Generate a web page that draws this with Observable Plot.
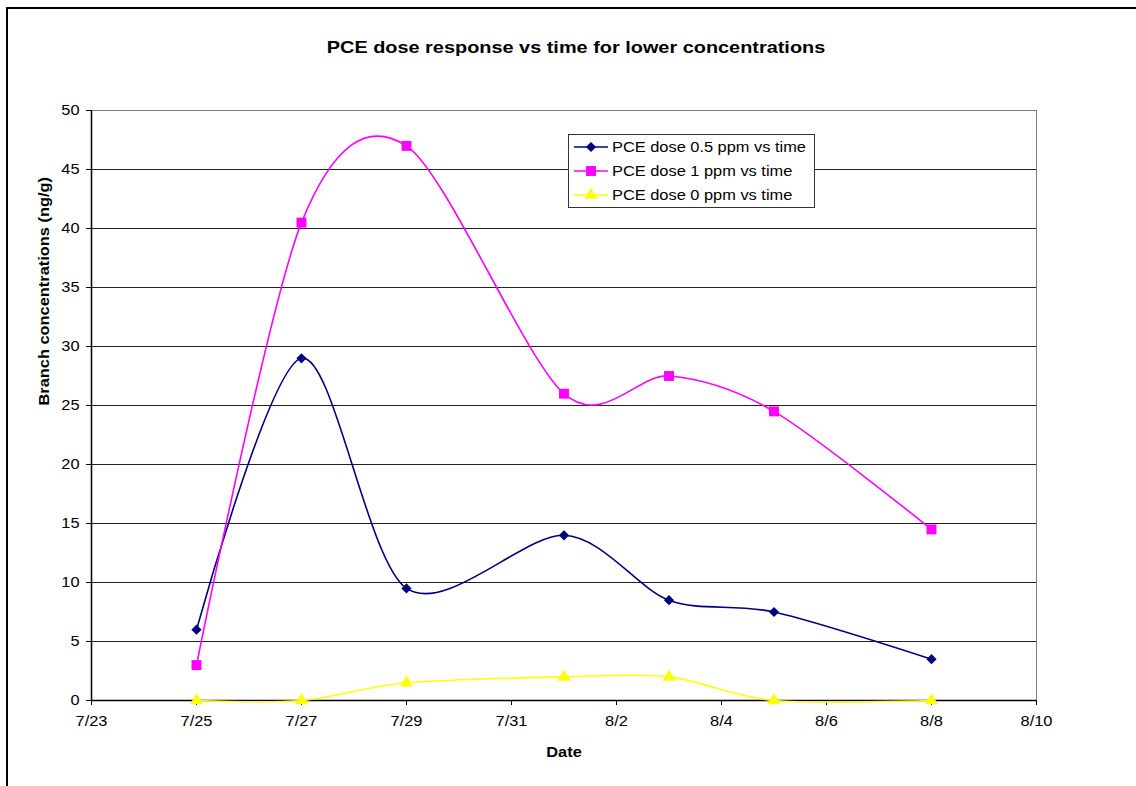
<!DOCTYPE html>
<html>
<head>
<meta charset="utf-8">
<script src="https://cdn.jsdelivr.net/npm/d3@7"></script>
<script src="https://cdn.jsdelivr.net/npm/@observablehq/plot@0.6"></script>
<style>
  html, body { margin: 0; padding: 0; background: #fff; }
  #chart { position: relative; width: 1136px; height: 786px; overflow: hidden; }
  #chart svg { position: absolute; left: 0; top: 0; }
</style>
</head>
<body>
<div id="chart"></div>
<script>
// ---- data ----
const title = "PCE dose response vs time for lower concentrations";
const xLabel = "Date";
const yLabel = "Branch concentrations (ng/g)";
const dates = ["7/25", "7/27", "7/29", "8/1", "8/3", "8/5", "8/8"];
const dose05 = [6, 29, 9.5, 14, 8.5, 7.5, 3.5];
const dose1 = [3, 40.5, 47, 26, 27.5, 24.5, 14.5];
const dose0 = [0, 0, 1.5, 2, 2, 0, 0];
const seriesNames = ["PCE dose 0.5 ppm vs time", "PCE dose 1 ppm vs time", "PCE dose 0 ppm vs time"];
const seriesColors = ["#000080", "#FF00FF", "#FFFF00"];
const seriesSymbols = ["diamond2", "square", "triangle"];
const xTickLabels = ["7/23", "7/25", "7/27", "7/29", "7/31", "8/2", "8/4", "8/6", "8/8", "8/10"];
const yTicks = [0, 5, 10, 15, 20, 25, 30, 35, 40, 45, 50];

const parse = s => { const [m, d] = s.split("/").map(Number); return new Date(Date.UTC(2004, m - 1, d)); };
const fmt = d => `${d.getUTCMonth() + 1}/${d.getUTCDate()}`;
const xTickDates = xTickLabels.map(parse);
const allSeries = [dose05, dose1, dose0];
const rows = allSeries.flatMap((vals, i) => vals.map((v, j) => ({series: seriesNames[i], date: parse(dates[j]), value: v})));
const symSizes = {diamond2: 4.6, square: 5.6, triangle: 4.8};

const font = "'Liberation Sans', Arial, sans-serif";
const marks = [
  Plot.ruleY(yTicks.filter(d => d > 0 && d < 50), {stroke: "#222", strokeWidth: 1}),
  Plot.ruleY([50], {stroke: "#808080", strokeWidth: 1}),
  Plot.ruleX([xTickDates[xTickDates.length - 1]], {stroke: "#808080", strokeWidth: 1}),
  Plot.axisY({ticks: yTicks, tickSize: 5, tickPadding: 7, label: null, fontSize: 14}),
  Plot.axisX({ticks: xTickDates, tickFormat: fmt, tickSize: 5, tickPadding: 11, label: null, fontSize: 14}),
  Plot.ruleY([0], {stroke: "#000", strokeWidth: 1.5}),
  Plot.ruleX([xTickDates[0]], {stroke: "#000", strokeWidth: 1.5})
];
seriesNames.forEach((name, i) => {
  const data = rows.filter(r => r.series === name);
  marks.push(Plot.line(data, {x: "date", y: "value", stroke: seriesColors[i], strokeWidth: 1.6, curve: "cardinal", tension: 0.1}));
});
seriesNames.forEach((name, i) => {
  const data = rows.filter(r => r.series === name);
  marks.push(Plot.dot(data, {x: "date", y: "value", symbol: seriesSymbols[i], fill: seriesColors[i], stroke: "none", r: symSizes[seriesSymbols[i]]}));
});
marks.push(Plot.text([title], {frameAnchor: "top", dx: 12, dy: -63, lineAnchor: "middle", fontSize: 17, fontWeight: "bold", text: d => d}));
marks.push(Plot.text([xLabel], {frameAnchor: "bottom", dy: 52, lineAnchor: "middle", fontSize: 14, fontWeight: "bold", text: d => d}));
marks.push(Plot.text([yLabel], {frameAnchor: "left", dx: -47, rotate: -90, lineAnchor: "middle", fontSize: 14, fontWeight: "bold", text: d => d}));

const chart = Plot.plot({
  width: 1136, height: 786,
  marginLeft: 91, marginRight: 100, marginTop: 110, marginBottom: 86,
  x: {type: "utc", domain: [xTickDates[0], xTickDates[xTickDates.length - 1]]},
  y: {domain: [0, 50]},
  style: {fontFamily: font, fontSize: "14px", color: "#000", background: "transparent", overflow: "visible"},
  marks
});
document.getElementById("chart").appendChild(chart);

const svg = d3.select(chart);
// outer chart border (left and top visible)
svg.append("path").attr("d", "M7,800V8H1140").attr("fill", "none").attr("stroke", "#000").attr("stroke-width", 2);

// legend
const lg = svg.append("g").attr("transform", "translate(568,134)");
lg.append("rect").attr("x", 0.5).attr("y", 0.5).attr("width", 246).attr("height", 73).attr("fill", "#fff").attr("stroke", "#333").attr("stroke-width", 1);
seriesNames.forEach((name, i) => {
  const y = 13 + i * 24;
  lg.append("line").attr("x1", 6).attr("x2", 40).attr("y1", y).attr("y2", y).attr("stroke", seriesColors[i]).attr("stroke-width", 1.6);
  const r = symSizes[seriesSymbols[i]];
  const sym = {diamond2: d3.symbolDiamond2, square: d3.symbolSquare, triangle: d3.symbolTriangle}[seriesSymbols[i]];
  lg.append("path").attr("d", d3.symbol(sym, Math.PI * r * r)()).attr("transform", `translate(23,${y})`).attr("fill", seriesColors[i]);
  lg.append("text").attr("x", 44).attr("y", y).attr("dy", "0.35em").attr("text-anchor", "start").attr("font-size", 14).attr("font-family", font).attr("fill", "#000").text(name);
});

// horizontally widen glyphs to match the reference's stretched Arial rendering
svg.selectAll("text").each(function() {
  if (this.querySelector("tspan")) return;
  const w = this.getComputedTextLength();
  if (w > 0) {
    this.setAttribute("textLength", (w * 1.17).toFixed(1));
    this.setAttribute("lengthAdjust", "spacingAndGlyphs");
  }
});
</script>
</body>
</html>
